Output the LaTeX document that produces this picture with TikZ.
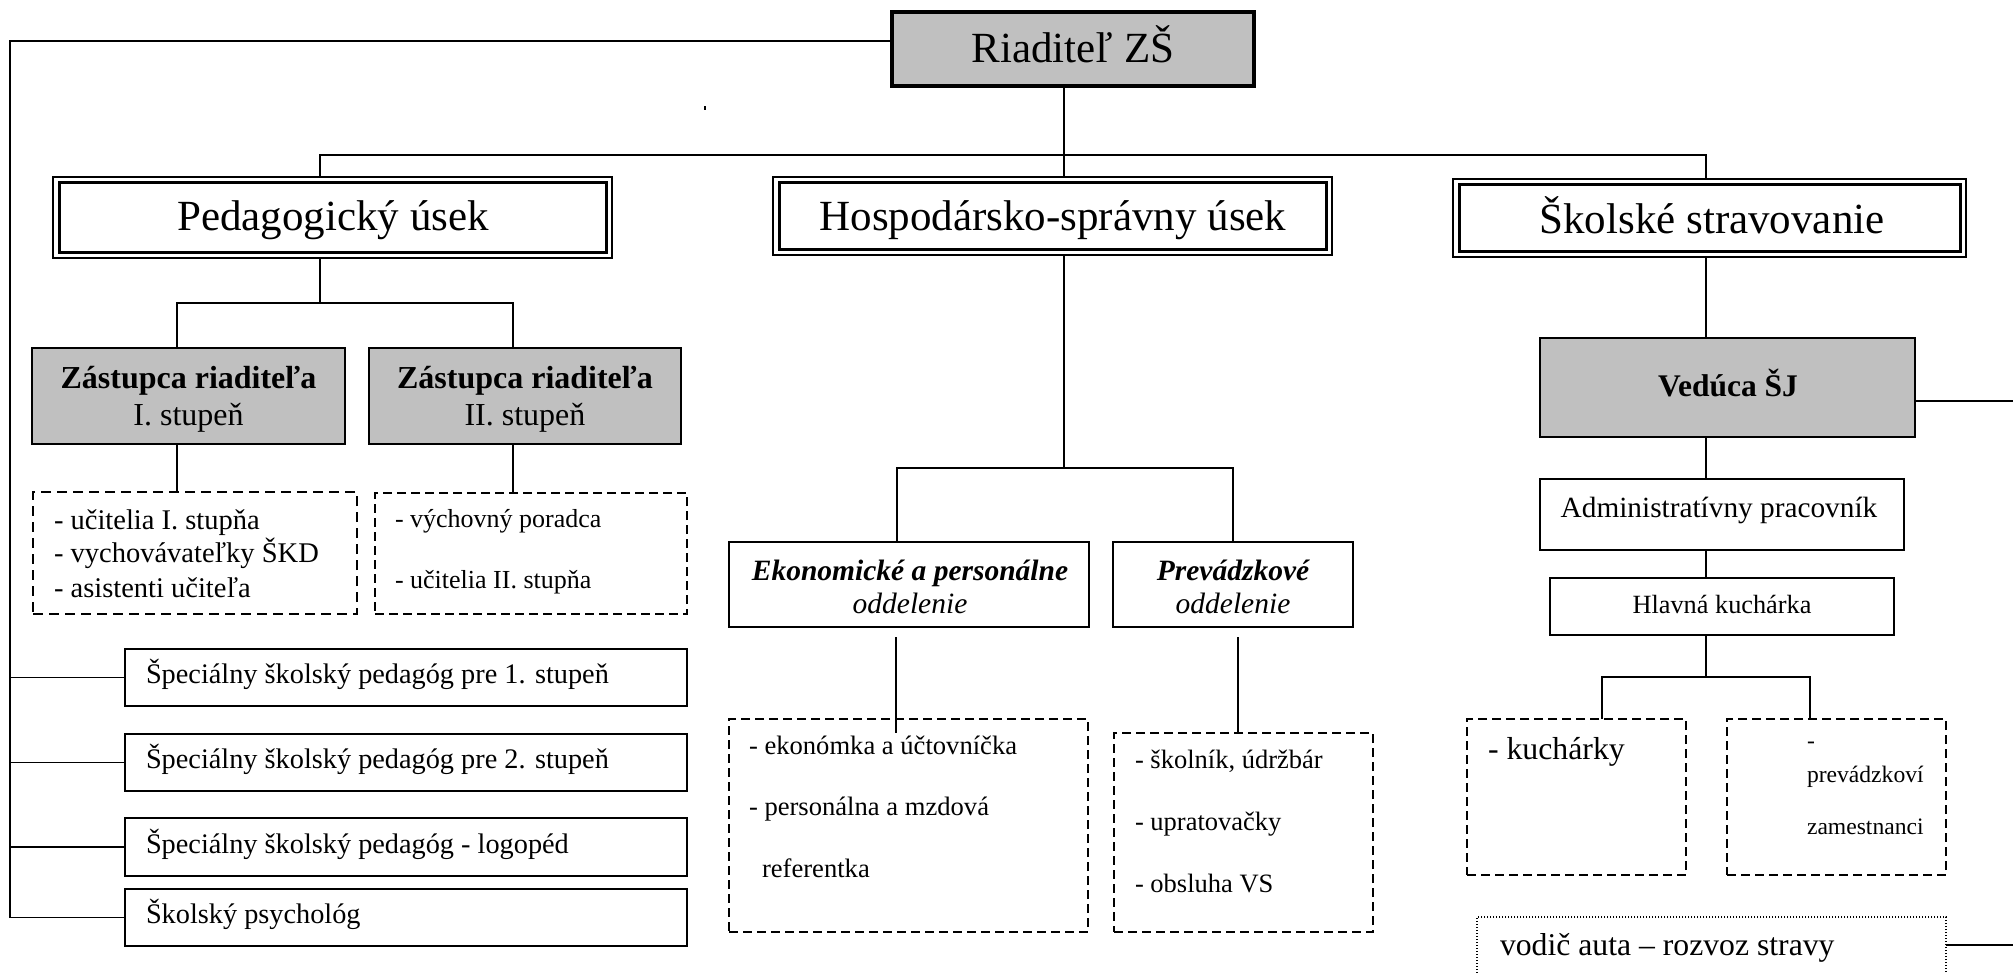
\documentclass[tikz,border=0pt]{standalone}
\usepackage{fontspec}
\setmainfont{Liberation Serif}
\definecolor{boxgray}{RGB}{192,192,192}
\newcommand\fsz[1]{\fontsize{#1}{#1}\selectfont}
\tikzset{
  conn/.style={line width=1.5pt},
  box/.style={draw, line width=2pt, inner sep=0pt, outer sep=0pt},
  dbox/.style={box, line width=1.3pt},
  gbox/.style={box, fill=boxgray},
  dshA/.style={draw, line width=2.8pt, dash pattern=on 10pt off 6pt, inner sep=0pt, outer sep=0pt},
  dshB/.style={draw, line width=1.8pt, dash pattern=on 9pt off 5pt, inner sep=0pt, outer sep=0pt},
  dotbox/.style={draw, line width=1.5pt, dash pattern=on 1.2pt off 1.8pt, inner sep=0pt, outer sep=0pt},
  txt/.style={inner sep=0pt, outer sep=0pt},
}
\begin{document}
\begin{tikzpicture}[x=1pt,y=-1pt]
\useasboundingbox (0,0) rectangle (2013,972);
\clip (0,0) rectangle (2013,972);
\fill[white] (0,0) rectangle (2013,972);

% coordinates for line positions
\coordinate (xL) at (10,0);
\coordinate (yL) at (0,41);
\coordinate (xR) at (1064,0);
\coordinate (xP) at (320,0);
\coordinate (xS) at (1706,0);
\coordinate (yB1) at (0,155);
\coordinate (yB2) at (0,303);
\coordinate (xZ1) at (177,0);
\coordinate (xZ2) at (513,0);
\coordinate (yB3) at (0,468);
\coordinate (xEk) at (897,0);
\coordinate (xPv) at (1233,0);
\coordinate (xE) at (896,0);
\coordinate (xPr) at (1238,0);
\coordinate (yB4) at (0,677);
\coordinate (xK) at (1602,0);
\coordinate (xZm) at (1810,0);
\coordinate (rE1) at (2013,401);
\coordinate (rE2) at (2013,945);

% top
\node[gbox, line width=3.5pt, minimum width=362pt, minimum height=74pt] (rid) at (1073,49) {};
\node[txt, font=\fsz{43}, anchor=base] (trid) at (1073,62) {Riaditeľ ZŠ};

% second level double boxes
\node[dbox, minimum width=559pt, minimum height=81pt] (ped) at (332.5,217.5) {};
\draw[line width=3pt] ([shift={(6,5.5)}]ped.north west) rectangle ([shift={(-6,-5.5)}]ped.south east);
\node[txt, font=\fsz{43}, anchor=base] (tped) at (333,230) {Pedagogický úsek};

\node[dbox, minimum width=559pt, minimum height=78pt] (hos) at (1052.5,216) {};
\draw[line width=3pt] ([shift={(6,5.5)}]hos.north west) rectangle ([shift={(-6,-5.5)}]hos.south east);
\node[txt, font=\fsz{43}, anchor=base] (thos) at (1053,230) {Hospodársko-správny úsek};

\node[dbox, minimum width=513pt, minimum height=78pt] (sko) at (1709.5,218) {};
\draw[line width=3pt] ([shift={(6,5.5)}]sko.north west) rectangle ([shift={(-6,-5.5)}]sko.south east);
\node[txt, font=\fsz{43}, anchor=base] (tsko) at (1712,233) {Školské stravovanie};

\fill (704.3,106) rectangle (705.5,110);

% deputies
\node[gbox, minimum width=313pt, minimum height=96pt] (z1) at (188.5,396) {};
\node[txt, font=\bfseries\fsz{32}, anchor=base] (tz1a) at (188.5,388) {Zástupca riaditeľa};
\node[txt, font=\fsz{32}, anchor=base] (tz1b) at (188.5,425) {I. stupeň};
\node[gbox, minimum width=312pt, minimum height=96pt] (z2) at (525,396) {};
\node[txt, font=\bfseries\fsz{32}, anchor=base] (tz2a) at (525,388) {Zástupca riaditeľa};
\node[txt, font=\fsz{32}, anchor=base] (tz2b) at (525,425) {II. stupeň};

% dashed staff boxes
\node[dshA, minimum width=324pt, minimum height=122pt] (d1) at (195,553) {};
\node[txt, font=\fsz{28.5}, anchor=base west] (td1a) at (54,529) {- učitelia I. stupňa};
\node[txt, font=\fsz{28.5}, anchor=base west] (td1b) at (54,562) {- vychovávateľky ŠKD};
\node[txt, font=\fsz{28.5}, anchor=base west] (td1c) at (54,597) {- asistenti učiteľa};
\node[dshB, minimum width=312pt, minimum height=121pt] (d2) at (531,553.5) {};
\node[txt, font=\fsz{26}, anchor=base west] (td2a) at (395,527) {- výchovný poradca};
\node[txt, font=\fsz{26}, anchor=base west] (td2b) at (395,588) {- učitelia II. stupňa};

% special pedagogues
\node[box, minimum width=562pt, minimum height=57pt] (s1) at (406,677.5) {};
\node[txt, font=\fsz{28.3}, anchor=base west] (ts1) at (146,683) {Špeciálny školský pedagóg pre 1. stupeň};
\node[box, minimum width=562pt, minimum height=57pt] (s2) at (406,762.5) {};
\node[txt, font=\fsz{28.3}, anchor=base west] (ts2) at (146,768) {Špeciálny školský pedagóg pre 2. stupeň};
\node[box, minimum width=562pt, minimum height=58pt] (s3) at (406,847) {};
\node[txt, font=\fsz{28.3}, anchor=base west] (ts3) at (146,853) {Špeciálny školský pedagóg - logopéd};
\node[box, minimum width=562pt, minimum height=57pt] (s4) at (406,917.5) {};
\node[txt, font=\fsz{28.3}, anchor=base west] (ts4) at (146,923) {Školský psychológ};

% economic departments
\node[box, minimum width=360pt, minimum height=85pt] (ek) at (909,584.5) {};
\node[txt, font=\bfseries\itshape\fsz{29.5}, anchor=base] (tek1) at (910,580) {Ekonomické a personálne};
\node[txt, font=\itshape\fsz{29.5}, anchor=base] (tek2) at (910,613) {oddelenie};
\node[box, minimum width=240pt, minimum height=85pt] (pr) at (1233,584.5) {};
\node[txt, font=\bfseries\itshape\fsz{29.5}, anchor=base] (tpr1) at (1233,580) {Prevádzkové};
\node[txt, font=\itshape\fsz{29.5}, anchor=base] (tpr2) at (1233,613) {oddelenie};

\node[dshB, minimum width=359pt, minimum height=213pt] (ed) at (908.5,825.5) {};
\node[txt, font=\fsz{26.6}, anchor=base west] (ted1) at (749,754) {- ekonómka a účtovníčka};
\node[txt, font=\fsz{26.6}, anchor=base west] (ted2) at (749,815) {- personálna a mzdová};
\node[txt, font=\fsz{26.6}, anchor=base west] (ted3) at (762,877) {referentka};
\node[dshB, minimum width=259pt, minimum height=199pt] (pd) at (1243.5,832.5) {};
\node[txt, font=\fsz{26.5}, anchor=base west] (tpd1) at (1135,768) {- školník, údržbár};
\node[txt, font=\fsz{26.5}, anchor=base west] (tpd2) at (1135,830) {- upratovačky};
\node[txt, font=\fsz{26.5}, anchor=base west] (tpd3) at (1135,892) {- obsluha VS};

% canteen
\node[gbox, minimum width=375pt, minimum height=99pt] (ved) at (1727.5,387.5) {};
\node[txt, font=\bfseries\fsz{31.5}, anchor=base] (tved) at (1728,396) {Vedúca ŠJ};
\node[box, minimum width=364pt, minimum height=71pt] (adm) at (1722,514.5) {};
\node[txt, font=\fsz{29.3}, anchor=base] (tadm) at (1719,517) {Administratívny pracovník};
\node[box, minimum width=344pt, minimum height=57pt] (hk) at (1722,606.5) {};
\node[txt, font=\fsz{26.3}, anchor=base] (thk) at (1722,613) {Hlavná kuchárka};
\node[dshB, minimum width=219pt, minimum height=156pt] (ku) at (1576.5,797) {};
\node[txt, font=\fsz{31.8}, anchor=base west] (tku) at (1488,759) {- kuchárky};
\node[dshB, minimum width=219pt, minimum height=156pt] (pz) at (1836.5,797) {};
\node[txt, font=\fsz{23.6}, anchor=base west] (tpz1) at (1807,748) {-};
\node[txt, font=\fsz{23.6}, anchor=base west] (tpz2) at (1807,782) {prevádzkoví};
\node[txt, font=\fsz{23.6}, anchor=base west] (tpz3) at (1807,834) {zamestnanci};
\node[dotbox, minimum width=469pt, minimum height=78pt] (vo) at (1711.5,956) {};
\node[txt, font=\fsz{31.7}, anchor=base west] (tvo) at (1500,955) {vodič auta – rozvoz stravy};

% connectors
\draw[conn] (rid.west |- yL) -- (xL |- yL) -- (xL |- s4.west) -- (s4.west);
\draw[conn] (xL |- s1.west) -- (s1.west);
\draw[conn] (xL |- s2.west) -- (s2.west);
\draw[conn] (xL |- s3.west) -- (s3.west);
\draw[conn] (rid.south -| xR) -- (hos.north -| xR);
\draw[conn] (ped.north -| xP) -- (xP |- yB1) -- (xS |- yB1) -- (sko.north -| xS);
\draw[conn] (ped.south -| xP) -- (xP |- yB2);
\draw[conn] (z1.north -| xZ1) -- (xZ1 |- yB2) -- (xZ2 |- yB2) -- (z2.north -| xZ2);
\draw[conn] (z1.south -| xZ1) -- (d1.north -| xZ1);
\draw[conn] (z2.south -| xZ2) -- (d2.north -| xZ2);
\draw[conn] (hos.south -| xR) -- (xR |- yB3);
\draw[conn] (ek.north -| xEk) -- (xEk |- yB3) -- (xPv |- yB3) -- (pr.north -| xPv);
\coordinate (ekb) at ([yshift=-10pt]ek.south);
\coordinate (edt) at ([yshift=-14pt]ed.north);
\draw[conn] (ekb -| xE) -- (edt -| xE);
\coordinate (prb) at ([yshift=-10pt]pr.south);
\draw[conn] (prb -| xPr) -- (pd.north -| xPr);
\draw[conn] (sko.south -| xS) -- (ved.north -| xS);
\draw[conn] (ved.east |- rE1) -- (rE1);
\draw[conn] (ved.south -| xS) -- (adm.north -| xS);
\draw[conn] (adm.south -| xS) -- (hk.north -| xS);
\draw[conn] (hk.south -| xS) -- (xS |- yB4);
\draw[conn] (ku.north -| xK) -- (xK |- yB4) -- (xZm |- yB4) -- (pz.north -| xZm);
\draw[conn] (vo.east |- rE2) -- (rE2);
\end{tikzpicture}
\end{document}
